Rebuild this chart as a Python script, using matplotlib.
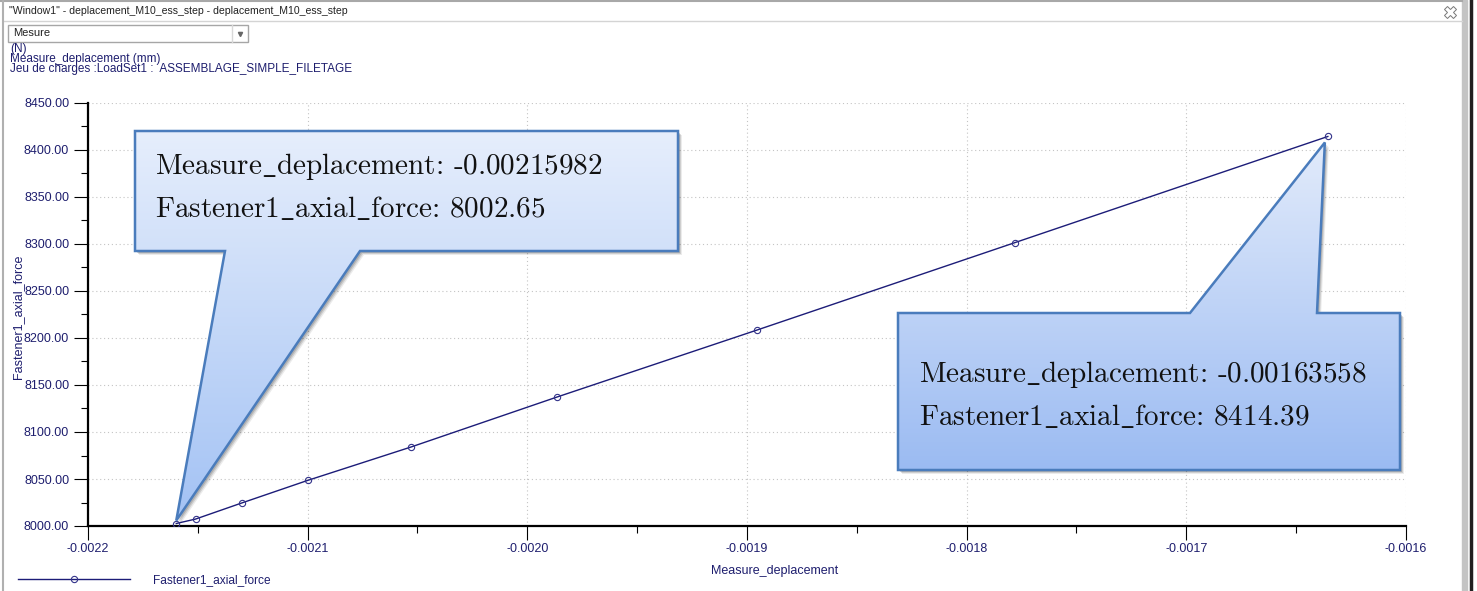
import numpy as np
import matplotlib
matplotlib.use('Agg')
import matplotlib.pyplot as plt
from matplotlib.patches import Polygon, Rectangle
from matplotlib.colors import LinearSegmentedColormap
from matplotlib.ticker import MultipleLocator, FuncFormatter

plt.rcParams['font.family'] = ['Liberation Sans', 'DejaVu Sans']
plt.rcParams['mathtext.fontset'] = 'cm'

W, H = 1477, 591

# data
deplacement = [-0.00215982, -0.002151, -0.002130, -0.002100, -0.002053,
               -0.0019865, -0.0018954, -0.001778, -0.00163558]
axial_force = [8002.65, 8007.4, 8024.5, 8048.5, 8084.0,
               8137.2, 8208.5, 8301.5, 8414.39]
x_ticks = [-0.0022, -0.0021, -0.0020, -0.0019, -0.0018, -0.0017, -0.0016]
y_ticks = [8000, 8050, 8100, 8150, 8200, 8250, 8300, 8350, 8400, 8450]

window_title = '"Window1" - deplacement_M10_ess_step - deplacement_M10_ess_step'
header_lines = ['(N)', 'Measure_deplacement (mm)',
                'Jeu de charges :LoadSet1 :  ASSEMBLAGE_SIMPLE_FILETAGE']
series_name = 'Fastener1_axial_force'
x_name = 'Measure_deplacement'

navy = '#1e1e6e'

fig = plt.figure(figsize=(W / 100, H / 100), dpi=100)
ax = fig.add_axes([88 / W, (H - 526) / H, (1406 - 88) / W, (526 - 103) / H])

ax.plot(deplacement, axial_force, color='#1c1c78', lw=1, marker='o', ms=4.5,
        mfc='none', mec='#33338a', mew=0.8, label=series_name, zorder=3)

ax.set_xlim(x_ticks[0], x_ticks[-1])
ax.set_ylim(y_ticks[0], y_ticks[-1])
ax.set_xticks(x_ticks)
ax.set_yticks(y_ticks)
ax.xaxis.set_minor_locator(MultipleLocator(0.00005))
ax.yaxis.set_minor_locator(MultipleLocator(25))
ax.xaxis.set_major_formatter(FuncFormatter(lambda v, p: f'{v:.4f}'))
ax.yaxis.set_major_formatter(FuncFormatter(lambda v, p: f'{v:.2f}'))
# tick sizes in points (1px = 0.72pt)
ax.tick_params(which='major', length=10, width=0.8, color='black',
               labelsize=9, labelcolor=navy)
ax.tick_params(axis='y', which='major', pad=3.5)
ax.tick_params(axis='x', which='major', pad=2)
ax.tick_params(which='minor', length=5, width=0.8, color='black')
ax.grid(True, which='major', color='#c4c4c4', lw=0.8, ls=(0, (1, 2.5)))
for s in ['top', 'right']:
    ax.spines[s].set_visible(False)
for s in ['left', 'bottom']:
    ax.spines[s].set_linewidth(1.6)
ax.set_xlabel(x_name, fontsize=9, color=navy)
ax.set_ylabel(series_name, fontsize=9, color=navy)
ax.xaxis.set_label_coords((775 - 88) / 1318, (526 - 565) / 423)
ax.yaxis.set_label_coords((24 - 88) / 1318, (526 - 317) / 423)

leg = fig.legend(loc='center left', bbox_to_anchor=(18 / W, (H - 580) / H),
                 frameon=False, fontsize=8.6, handlelength=9.4, handletextpad=1.9,
                 borderpad=0, borderaxespad=0, numpoints=1)
for t in leg.get_texts():
    t.set_color(navy)

# overlay in pixel coordinates for window chrome and callouts
ov = fig.add_axes([0, 0, 1, 1], zorder=5)
ov.set_xlim(0, W)
ov.set_ylim(H, 0)
ov.axis('off')
ov.patch.set_alpha(0)

ov.plot([0, 1462], [1, 1], color='#a8a8a8', lw=1.5)
ov.plot([3, 1462], [21, 21], color='#d4d4d4', lw=1)
ov.plot([3, 3], [0, H], color='#b0b0b0', lw=1.5)
ov.add_patch(Rectangle((1462, 0), 5, H, color='#c4c4c4'))
ov.plot([1471, 1471], [0, H], color='#202020', lw=2.5)
ov.text(9, 11, window_title, fontsize=7.6, color='#222222', va='center')
ov.plot([1450], [12], marker='X', ms=9, mfc='white', mec='#777777', mew=0.7)

ov.add_patch(Rectangle((8, 25), 240, 17, fc='white', ec='#a6a6a6', lw=1))
ov.plot([232, 232], [25, 42], color='#d8d8d8', lw=1)
ov.plot([240], [34], marker='v', ms=3, color='#666666')
ov.text(13, 33.5, 'Mesure', fontsize=8, color='#222222', va='center')

for i, line in enumerate(header_lines):
    ov.text(10, 49 + i * 10, line, fontsize=8.5, color=navy, va='center')


def to_px(x, y):
    px, py = ax.transData.transform((x, y))
    return px, H - py


def callout(box, base, tip, c_top, c_bot, lines, tx, ty):
    x0, y0, x1, y1 = box
    bx0, bx1, by = base
    if by == y1:
        pts = [(x0, y0), (x1, y0), (x1, y1), (bx1, y1), tip, (bx0, y1), (x0, y1)]
    else:
        pts = [(x0, y0), (bx0, y0), tip, (bx1, y0), (x1, y0), (x1, y1), (x0, y1)]
    ys = [p[1] for p in pts]
    top, bot = min(ys), max(ys)
    for d, a in [(4, 0.08), (3, 0.12), (2, 0.15)]:
        ov.add_patch(Polygon([(p[0] + d, p[1] + d) for p in pts], closed=True,
                             fc='#000000', alpha=a, ec='none'))
    poly = Polygon(pts, closed=True, fc='none', ec='#4a7cbc', lw=1.8, zorder=4)
    cmap = LinearSegmentedColormap.from_list('g', [c_top, c_bot])
    grad = np.linspace(0, 1, 256).reshape(-1, 1)
    im = ov.imshow(grad, cmap=cmap, aspect='auto', extent=(x0, x1 + 2, bot, top),
                   zorder=3, interpolation='bilinear')
    clip = Polygon(pts, closed=True, transform=ov.transData)
    im.set_clip_path(clip)
    ov.add_patch(poly)
    for i, s in enumerate(lines):
        ov.text(tx, ty + i * 42, s, family='cmr10', fontsize=21, color='#111111',
                va='center', zorder=6)


p0 = to_px(deplacement[0], axial_force[0])
p1 = to_px(deplacement[-1], axial_force[-1])

callout((135, 131, 678, 251), (225, 360, 251), (p0[0], p0[1] - 3),
        '#e6eefc', '#a3c2f4',
        [r'Measure$\_$deplacement: ' + f'{deplacement[0]:.8f}',
         r'Fastener1$\_$axial$\_$force: ' + f'{axial_force[0]:.2f}'], 155, 167)
callout((898, 313, 1400, 470), (1190, 1317, 313), (p1[0] - 3, p1[1] + 6),
        '#e2ebfb', '#9bbbf2',
        [r'Measure$\_$deplacement: ' + f'{deplacement[-1]:.8f}',
         r'Fastener1$\_$axial$\_$force: ' + f'{axial_force[-1]:.2f}'], 919, 375)

fig.savefig('out.png', dpi=100)
